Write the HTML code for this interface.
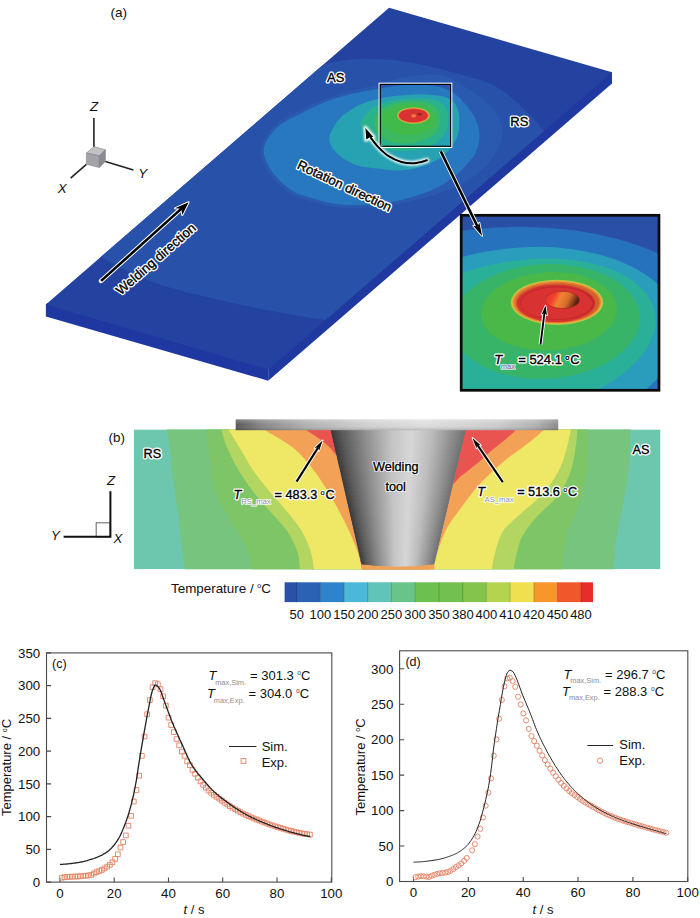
<!DOCTYPE html>
<html><head><meta charset="utf-8"><title>Figure</title>
<style>
html,body{margin:0;padding:0;background:#fff;}
body{width:700px;height:918px;overflow:hidden;font-family:"Liberation Sans",sans-serif;}
svg{display:block;font-family:"Liberation Sans",sans-serif;}
</style></head><body>
<svg width="700" height="918" viewBox="0 0 700 918">
<rect width="700" height="918" fill="#fff"/>
<!-- panel a -->
<defs><filter id="blur04"><feGaussianBlur stdDeviation="0.45"/></filter><filter id="glow" x="-20%" y="-20%" width="140%" height="140%"><feGaussianBlur stdDeviation="0.85"/></filter></defs>
<polygon points="45.9,304.4 47.4,303.09999999999997 268.2,368.0 268.2,380.7 45.9,316.4" fill="#1f37a1"/>
<polygon points="268.2,368.0 610.1,71.74 612,72.3 612,83.5 268.2,380.7" fill="#2039a0"/>
<clipPath id="plate"><polygon points="45.9,304.4 389.1,7.7 612,72.3 268.2,369.5"/></clipPath>
<polygon points="45.9,304.4 389.1,7.7 612,72.3 268.2,369.5" fill="#2443a0"/>
<g clip-path="url(#plate)">
<path d="M300,82C303.3,79.3 310.2,69.8 320.0,66.0C329.8,62.2 344.6,59.8 358.6,59.0C372.6,58.2 388.8,59.3 404.0,61.4C419.2,63.5 435.0,67.7 450.0,71.7C465.0,75.7 481.4,78.9 494.0,85.4C506.6,91.9 517.2,102.7 525.7,110.6C534.2,118.5 540.0,126.4 545.0,133.0C550.0,139.6 554.2,147.2 556.0,150.0L620,160 L400,400 L350,326C347.1,325.2 342.4,323.3 332.6,321.4C322.8,319.5 309.7,318.0 291.4,314.6C273.1,311.2 245.8,306.2 222.9,300.9C200.1,295.6 174.5,289.9 154.3,282.6C134.1,275.4 113.2,263.5 101.7,257.4C90.2,251.3 87.8,247.9 85.0,246.0L20,240Z" fill="#2851a9"/>
<path d="M261.0,148.5C262.3,140.5 269.2,130.5 276.0,124.0C282.8,117.5 294.0,113.6 302.0,109.5C310.0,105.4 316.0,102.6 324.0,99.5C332.0,96.4 341.3,93.4 350.0,91.0C358.7,88.6 366.8,87.3 376.0,85.0C385.2,82.7 394.3,78.7 405.0,77.0C415.7,75.3 429.2,72.8 440.0,75.0C450.8,77.2 461.7,84.8 470.0,90.0C478.3,95.2 485.0,101.0 490.0,106.0C495.0,111.0 498.0,115.0 500.0,120.0C502.0,125.0 502.7,130.7 502.0,136.0C501.3,141.3 498.7,147.0 496.0,152.0C493.3,157.0 491.0,161.0 486.0,166.0C481.0,171.0 473.7,177.5 466.0,182.0C458.3,186.5 449.7,189.7 440.0,193.0C430.3,196.3 418.3,199.7 408.0,202.0C397.7,204.3 387.7,206.0 378.0,207.0C368.3,208.0 358.2,208.2 350.0,208.0C341.8,207.8 335.7,207.2 329.0,206.0C322.3,204.8 316.7,203.2 310.0,201.0C303.3,198.8 296.0,197.8 289.0,193.0C282.0,188.2 272.7,179.4 268.0,172.0C263.3,164.6 259.7,156.5 261.0,148.5Z" fill="#295ab0"/>
<path d="M264.0,148.0C265.3,140.7 271.9,132.0 278.6,126.0C285.3,120.0 296.5,116.0 304.3,111.9C312.1,107.9 317.9,104.7 325.7,101.7C333.5,98.7 342.8,96.1 351.4,94.0C360.0,91.9 367.3,90.5 377.1,88.9C386.9,87.3 399.9,84.9 410.0,84.5C420.1,84.1 430.5,84.9 438.0,86.5C445.5,88.1 450.3,90.9 455.0,94.0C459.7,97.1 462.5,100.7 466.0,105.0C469.5,109.3 473.8,114.8 476.0,120.0C478.2,125.2 479.5,130.7 479.5,136.0C479.5,141.3 477.9,147.5 476.0,152.0C474.1,156.5 471.5,159.0 468.0,163.0C464.5,167.0 460.7,171.7 455.0,176.0C449.3,180.3 442.3,185.2 434.0,189.0C425.7,192.8 414.3,196.5 405.0,199.0C395.7,201.5 387.2,203.0 378.0,204.0C368.8,205.0 358.0,205.2 350.0,205.0C342.0,204.8 336.3,204.2 330.0,203.0C323.7,201.8 318.4,200.1 312.0,198.0C305.6,195.9 298.2,195.0 291.4,190.3C284.6,185.6 275.6,177.1 271.0,170.0C266.4,162.9 262.7,155.3 264.0,148.0Z" fill="#2878c0"/>
<g filter="url(#blur04)">
<path d="M329.6,136.4C330.5,131.5 335.0,124.2 338.6,119.7C342.2,115.2 347.1,112.2 351.4,109.4C355.7,106.6 360.0,104.7 364.3,103.0C368.6,101.3 372.0,100.3 377.1,99.1C382.2,97.9 387.9,96.8 395.0,96.0C402.1,95.2 412.5,94.5 420.0,94.5C427.5,94.5 434.7,95.0 440.0,96.0C445.3,97.0 449.0,98.2 452.0,100.5C455.0,102.8 456.8,106.6 458.0,110.0C459.2,113.4 459.3,117.0 459.3,121.0C459.3,125.0 459.2,129.8 458.0,134.0C456.8,138.2 455.0,142.0 452.0,146.0C449.0,150.0 445.3,154.5 440.0,158.0C434.7,161.5 426.7,164.9 420.0,167.0C413.3,169.1 407.1,170.2 400.0,170.5C392.9,170.8 384.1,169.4 377.1,168.6C370.1,167.8 363.2,166.9 357.9,165.4C352.5,163.9 349.1,162.3 345.0,159.6C340.9,156.9 336.0,153.2 333.4,149.3C330.8,145.4 328.7,141.3 329.6,136.4Z" fill="#28a2b2"/>
<path d="M361.0,124.5C360.8,120.2 364.2,116.5 366.9,113.3C369.6,110.1 372.4,107.7 377.1,105.6C381.8,103.5 387.9,101.7 395.0,100.5C402.1,99.3 412.8,98.4 420.0,98.5C427.2,98.6 433.7,99.4 438.0,101.0C442.3,102.6 444.2,104.8 446.0,108.0C447.8,111.2 448.7,115.8 448.5,120.0C448.3,124.2 447.1,129.2 445.0,133.0C442.9,136.8 440.2,140.3 436.0,143.0C431.8,145.7 426.0,147.7 420.0,149.0C414.0,150.3 406.5,151.2 400.0,151.0C393.5,150.8 386.3,150.0 381.0,148.0C375.7,146.0 371.3,142.9 368.0,139.0C364.7,135.1 361.2,128.8 361.0,124.5Z" fill="#2cb28a"/>
<path d="M374.0,122.0C374.3,118.2 376.5,113.6 380.0,110.5C383.5,107.4 389.2,105.0 395.0,103.5C400.8,102.0 409.0,101.4 415.0,101.5C421.0,101.6 427.1,102.2 431.0,104.0C434.9,105.8 437.0,109.0 438.5,112.0C440.0,115.0 440.6,118.5 440.0,122.0C439.4,125.5 438.0,129.9 435.0,133.0C432.0,136.1 427.0,138.8 422.0,140.5C417.0,142.2 410.5,143.3 405.0,143.5C399.5,143.7 393.5,143.2 389.0,141.5C384.5,139.8 380.5,136.2 378.0,133.0C375.5,129.8 373.7,125.8 374.0,122.0Z" fill="#3ab860"/>
<ellipse cx="409" cy="119.5" rx="27" ry="15.5" fill="#42ba4c" />
<ellipse cx="413.4" cy="115.6" rx="16.2" ry="8.2" fill="#c8c848" />
<ellipse cx="413.4" cy="115.6" rx="15.4" ry="7.5" fill="#e87838" />
<ellipse cx="413.4" cy="115.6" rx="14.4" ry="6.7" fill="#d93030" />
<ellipse cx="413.7" cy="115.8" rx="2.6" ry="1.9" fill="#f4703c" />
<ellipse cx="419.7" cy="114.19999999999999" rx="2.0" ry="1.2" fill="#8a2a20" />
</g>
</g>
<rect x="379.15000000000003" y="83.25" width="72.60000000000001" height="64.2" fill="none" stroke="#fff" stroke-width="1.15"/>
<rect x="380.3" y="84.4" width="70.30000000000001" height="61.900000000000006" fill="none" stroke="#000" stroke-width="1.15"/>
<text x="335.7" y="82" font-size="13" text-anchor="middle" fill="#000" stroke="#fff" stroke-width="3.0" stroke-linejoin="round"  style="">AS</text><text x="335.7" y="82" font-size="13" text-anchor="middle" fill="#000" stroke="#000" stroke-width="0.35"  style="">AS</text>
<text x="519.3" y="126" font-size="13" text-anchor="middle" fill="#000" stroke="#fff" stroke-width="3.0" stroke-linejoin="round"  style="">RS</text><text x="519.3" y="126" font-size="13" text-anchor="middle" fill="#000" stroke="#000" stroke-width="0.35"  style="">RS</text>
<text x="120.8" y="295.6" font-size="13.2" text-anchor="start" fill="#000" stroke="#fff" stroke-width="3.0" stroke-linejoin="round"  transform="rotate(-41.2 120.8 295.6)" style="">Welding direction</text><text x="120.8" y="295.6" font-size="13.2" text-anchor="start" fill="#000" stroke="#000" stroke-width="0.35"  transform="rotate(-41.2 120.8 295.6)" style="">Welding direction</text>
<text x="296.2" y="168.1" font-size="13.2" text-anchor="start" fill="#000" stroke="#fff" stroke-width="3.0" stroke-linejoin="round"  transform="rotate(25.3 296.2 168.1)" style="">Rotation direction</text><text x="296.2" y="168.1" font-size="13.2" text-anchor="start" fill="#000" stroke="#000" stroke-width="0.35"  transform="rotate(25.3 296.2 168.1)" style="">Rotation direction</text>
<path d="M101.1,280.9 L184,206.3" stroke="#fff" stroke-width="4.6" stroke-linecap="round" fill="none"/>
<path d="M188.6,202.2 L175.0,208.3 L181.2,208.8 L182.3,215.0 Z" fill="#000" stroke="#fff" stroke-width="2" stroke-linejoin="round" paint-order="stroke"/>
<path d="M101.1,280.9 L182,208.1" stroke="#000" stroke-width="2.6" stroke-linecap="butt" fill="none"/>
<g filter="url(#glow)"><path d="M426.9,160.3C424.8,160.8 418.6,162.9 414.3,163.2C410.1,163.5 405.7,163.1 401.4,161.9C397.1,160.7 392.5,158.6 388.6,156.1C384.8,153.6 381.2,150.1 378.3,147.1C375.4,144.1 372.1,139.4 370.9,137.8" stroke="#fff" stroke-width="4.8" stroke-linecap="round" fill="none"/>
<path d="M365.2,127.4 L365.9,140.2 L370.2,137.6 L373.9,137.0 Z" fill="#fff" stroke="#fff" stroke-width="3.2" stroke-linejoin="round"/></g>
<path d="M365.4,127.9 L366.3,139.6 L370.0,137.3 L373.3,136.9 Z" fill="#000"/>
<path d="M426.9,160.3C424.8,160.8 418.6,162.9 414.3,163.2C410.1,163.5 405.7,163.1 401.4,161.9C397.1,160.7 392.5,158.6 388.6,156.1C384.8,153.6 381.2,150.1 378.3,147.1C375.4,144.1 372.1,139.4 370.9,137.8" stroke="#000" stroke-width="2.05" stroke-linecap="round" fill="none"/>
<g stroke="#222" stroke-width="1.6" fill="none"><path d="M93.9,117.9V147"/><path d="M105.4,161.5L133.4,169.9"/><path d="M86.4,164.3L70.6,178.2"/></g>
<polygon points="86.4,153.1 93.9,146.6 105.4,149.8 99.4,155.9" fill="#c2c2c6" stroke="#77777c" stroke-width="0.5"/>
<polygon points="86.4,153.1 99.4,155.9 99.4,167.6 86.4,164.3" fill="#a4a4a8" stroke="#77777c" stroke-width="0.5"/>
<polygon points="99.4,155.9 105.4,149.8 105.4,161.5 99.4,167.6" fill="#8a8a90" stroke="#77777c" stroke-width="0.5"/>
<g font-style="italic" font-size="13.4" fill="#111" text-anchor="middle"><text x="94.2" y="111.4">Z</text><text x="142.6" y="178.4">Y</text><text x="62.3" y="193.2">X</text></g>
<text x="110.4" y="17.4" font-size="13.6" fill="#111">(a)</text>
<!-- inset -->
<clipPath id="inset"><rect x="461.2" y="215.3" width="197.8" height="175.0"/></clipPath>
<defs><linearGradient id="pin" x1="0" y1="0" x2="1" y2="0.25"><stop offset="0" stop-color="#ee2c2c"/><stop offset="0.3" stop-color="#f04030"/><stop offset="0.5" stop-color="#f08432"/><stop offset="0.75" stop-color="#d86a2a"/><stop offset="0.95" stop-color="#7a3418"/><stop offset="1" stop-color="#5a2410"/></linearGradient></defs>
<g clip-path="url(#inset)">
<rect x="461.2" y="215.3" width="197.8" height="175.0" fill="#2a50a6"/>
<g filter="url(#blur04)">
<ellipse cx="494" cy="361" rx="241.7" ry="133" fill="#2872bc" transform="rotate(-5 494 361)" />
<ellipse cx="517.7" cy="341.3" rx="162.7" ry="93.4" fill="#2a9cbc" transform="rotate(-6.1 517.7 341.3)" />
<ellipse cx="518" cy="336.5" rx="139" ry="75.6" fill="#2cb098" transform="rotate(-9.5 518 336.5)" />
<ellipse cx="545.7" cy="321.4" rx="94.1" ry="57.2" fill="#38b468" transform="rotate(-3 545.7 321.4)" />
<ellipse cx="549.1" cy="311.2" rx="68.1" ry="39" fill="#48b848" transform="rotate(-3 549.1 311.2)" />
</g>
<ellipse cx="557" cy="302.3" rx="46.2" ry="22.6" fill="#b4cc48" />
<ellipse cx="557" cy="302.3" rx="45.2" ry="21.8" fill="#e8a83c" />
<ellipse cx="557" cy="302.3" rx="43.8" ry="20.8" fill="#e87c34" />
<ellipse cx="557.4" cy="302.6" rx="42" ry="19.7" fill="#d0602c" />
<ellipse cx="556" cy="303.4" rx="39.2" ry="18.7" fill="#d63030" />
<ellipse cx="557.2" cy="303" rx="36.8" ry="16.8" fill="#c0282a" />
<ellipse cx="556.6" cy="303.3" rx="35.6" ry="15.9" fill="#d83232" />
<ellipse cx="562.6" cy="300" rx="17.3" ry="8.7" fill="#a02820" />
<ellipse cx="562.4" cy="300" rx="16.8" ry="8.3" fill="url(#pin)" />
</g>
<rect x="461.2" y="215.3" width="197.8" height="175.0" fill="none" stroke="#0a0a0a" stroke-width="2.7"/>
<path d="M540.5,344.5 L544.6,311" stroke="#fff" stroke-width="3.8" stroke-linecap="butt" fill="none"/>
<path d="M545.5,305.6 L541.6,314.5 L544.5,313 L547.0,315.2 Z" fill="#000" stroke="#fff" stroke-width="1.6" stroke-linejoin="round" paint-order="stroke"/>
<path d="M540.5,344.5 L544.6,311.5" stroke="#000" stroke-width="1.9" fill="none"/>
<text x="494.3" y="363.6" font-size="13" text-anchor="start" fill="#000" stroke="#fff" stroke-width="3.0" stroke-linejoin="round"  style="font-style:italic">T</text><text x="494.3" y="363.6" font-size="13" text-anchor="start" fill="#000" stroke="#000" stroke-width="0.35"  style="font-style:italic">T</text>
<text x="500.8" y="368.6" font-size="7.6" text-anchor="start" fill="#8a92a8" stroke="#fff" stroke-width="1.6" stroke-linejoin="round"  style="">max</text><text x="500.8" y="368.6" font-size="7.6" text-anchor="start" fill="#8a92a8" stroke="#8a92a8" stroke-width="0.35"  style="">max</text>
<text x="518.2" y="363.6" font-size="13" text-anchor="start" fill="#000" stroke="#fff" stroke-width="3.0" stroke-linejoin="round"  style="">= 524.1</text><text x="518.2" y="363.6" font-size="13" text-anchor="start" fill="#000" stroke="#000" stroke-width="0.35"  style="">= 524.1</text>
<text x="565.3" y="359.8" font-size="7.5" text-anchor="start" fill="#000" stroke="#fff" stroke-width="1.8" stroke-linejoin="round"  style="">o</text><text x="565.3" y="359.8" font-size="7.5" text-anchor="start" fill="#000" stroke="#000" stroke-width="0.35"  style="">o</text>
<text x="570.2" y="363.6" font-size="13" text-anchor="start" fill="#000" stroke="#fff" stroke-width="3.0" stroke-linejoin="round"  style="">C</text><text x="570.2" y="363.6" font-size="13" text-anchor="start" fill="#000" stroke="#000" stroke-width="0.35"  style="">C</text>
<path d="M440.8,151.4L477.5,226.5" stroke="#fff" stroke-width="4.3" fill="none"/>
<path d="M482.1,235.9L473.3,225.7L477.5,226.5L479.4,222.7Z" fill="#000" stroke="#fff" stroke-width="1.7" stroke-linejoin="round" paint-order="stroke"/>
<path d="M440.8,151.4L477.5,226.5" stroke="#000" stroke-width="2.6" fill="none"/>
<!-- panel b -->
<clipPath id="pb"><rect x="134.0" y="429.4" width="526.5" height="139.89999999999998"/></clipPath>
<defs>
<linearGradient id="tool" x1="0" y1="0" x2="1" y2="0"><stop offset="0" stop-color="#3a3a3a"/><stop offset="0.08" stop-color="#5a5a5a"/><stop offset="0.25" stop-color="#8e8e8e"/><stop offset="0.45" stop-color="#c4c4c4"/><stop offset="0.6" stop-color="#d6d6d6"/><stop offset="0.75" stop-color="#bcbcbc"/><stop offset="0.9" stop-color="#909090"/><stop offset="1" stop-color="#707070"/></linearGradient>
<linearGradient id="shoulder" x1="0" y1="0" x2="1" y2="0"><stop offset="0" stop-color="#585858"/><stop offset="0.08" stop-color="#868686"/><stop offset="0.22" stop-color="#b2b2b2"/><stop offset="0.42" stop-color="#d2d2d2"/><stop offset="0.58" stop-color="#dedede"/><stop offset="0.8" stop-color="#cecece"/><stop offset="0.93" stop-color="#b2b2b2"/><stop offset="1" stop-color="#8a8a8a"/></linearGradient>
<linearGradient id="shv" x1="0" y1="0" x2="0" y2="1"><stop offset="0" stop-color="#fff" stop-opacity="0.25"/><stop offset="0.5" stop-color="#fff" stop-opacity="0"/><stop offset="1" stop-color="#000" stop-opacity="0.18"/></linearGradient>
</defs>
<g clip-path="url(#pb)">
<rect x="134.0" y="429.4" width="526.5" height="139.89999999999998" fill="#6dc6ae"/>
<path d="M166.1,421.4C166.2,422.7 166.3,424.6 167.0,429.4C167.7,434.2 169.0,441.6 170.0,450.0C171.0,458.4 171.9,471.6 173.0,480.0C174.1,488.4 175.1,491.5 176.3,500.7C177.6,509.9 179.1,523.6 180.5,535.0C181.9,546.4 183.9,562.0 184.9,569.0C185.9,576.0 186.0,575.7 186.2,577.0L398,577.0L398,421.4Z" fill="#76c47e"/>
<path d="M205.9,421.4C206.1,422.7 206.2,423.2 206.8,429.4C207.4,435.6 208.0,447.7 209.7,458.6C211.4,469.5 212.9,483.7 217.0,495.0C221.1,506.3 229.2,518.1 234.0,526.6C238.8,535.1 243.1,538.9 246.1,546.0C249.1,553.1 250.9,563.8 252.2,569.0C253.5,574.2 253.7,575.7 254.0,577.0L398,577.0L398,421.4Z" fill="#7ec568"/>
<path d="M219.8,421.4C220.1,422.7 220.3,425.2 221.4,429.4C222.5,433.6 223.8,439.5 226.7,446.4C229.6,453.3 234.0,462.6 238.9,470.7C243.8,478.8 250.2,487.7 255.9,495.0C261.6,502.3 267.6,508.3 272.8,514.4C278.1,520.5 283.3,525.3 287.4,531.4C291.4,537.5 295.0,544.5 297.1,550.8C299.2,557.1 299.4,564.6 300.0,569.0C300.6,573.4 300.7,575.7 300.9,577.0L398,577.0L398,421.4Z" fill="#b3d562"/>
<path d="M225.6,421.4C226.1,422.7 226.5,425.2 228.7,429.4C230.9,433.6 234.8,439.5 238.9,446.4C243.0,453.3 248.2,463.0 253.4,470.7C258.6,478.4 264.7,485.7 270.4,492.6C276.1,499.5 282.1,505.5 287.4,512.0C292.7,518.5 298.1,524.9 302.0,531.4C305.9,537.9 308.5,544.5 310.5,550.8C312.5,557.1 313.3,564.6 314.1,569.0C314.9,573.4 315.0,575.7 315.2,577.0L398,577.0L398,421.4Z" fill="#efe766"/>
<path d="M259.7,421.4C260.5,422.7 261.0,426.4 264.4,429.4C267.8,432.3 274.7,435.5 280.1,439.1C285.6,442.8 291.4,446.0 297.1,451.3C302.8,456.6 308.8,463.8 314.1,470.7C319.4,477.6 324.4,485.7 328.7,492.6C332.9,499.5 336.4,505.9 339.6,512.0C342.8,518.1 345.5,523.3 348.1,529.0C350.7,534.7 353.4,540.7 355.4,546.0C357.4,551.3 359.0,556.8 360.3,560.6C361.6,564.4 362.4,566.3 363.0,569.0C363.6,571.7 363.7,575.7 363.8,577.0L398,577.0L398,421.4Z" fill="#f4a158"/>
<path d="M302.3,421.4C302.9,422.7 303.2,426.8 305.6,429.4C308.0,431.9 312.8,433.9 316.6,436.7C320.5,439.5 325.7,443.6 328.7,446.4C331.7,449.2 332.1,449.8 334.8,453.7C337.5,457.6 340.5,450.8 345.0,470.0C349.5,489.2 358.3,551.2 362.0,569.0C365.7,586.8 366.2,575.7 367.1,577.0L398,577.0L398,421.4Z" fill="#ea5450"/>
<path d="M631.1,421.4C631.0,422.7 631.0,421.9 630.6,429.4C630.2,436.9 630.0,454.5 628.9,466.4C627.8,478.3 625.7,489.3 623.7,500.7C621.7,512.1 618.6,523.6 616.9,535.0C615.2,546.4 614.2,562.0 613.4,569.0C612.6,576.0 612.5,575.7 612.4,577.0L398,577.0L398,421.4Z" fill="#76c47e"/>
<path d="M588.2,421.4C588.1,422.7 588.1,421.2 587.8,429.4C587.5,437.6 588.2,457.8 586.6,470.7C585.0,483.6 581.5,496.2 578.1,507.1C574.7,518.0 568.6,526.0 566.0,536.3C563.4,546.6 563.1,562.2 562.3,569.0C561.5,575.8 561.4,575.7 561.2,577.0L398,577.0L398,421.4Z" fill="#7ec568"/>
<path d="M577.9,421.4C577.8,422.7 577.8,425.2 577.4,429.4C577.0,433.6 576.8,439.5 575.7,446.4C574.6,453.3 573.6,462.6 570.8,470.7C568.0,478.8 564.4,487.3 558.7,495.0C553.0,502.7 542.9,509.9 536.8,516.8C530.7,523.7 525.7,529.8 522.3,536.3C518.9,542.8 517.6,550.2 516.2,555.7C514.8,561.2 514.3,565.5 513.8,569.0C513.3,572.5 513.2,575.7 513.1,577.0L398,577.0L398,421.4Z" fill="#b3d562"/>
<path d="M571.9,421.4C571.7,422.7 571.6,425.2 570.8,429.4C570.0,433.6 569.2,439.5 567.2,446.4C565.2,453.3 563.0,462.6 558.7,470.7C554.5,478.8 548.2,487.7 541.7,495.0C535.2,502.3 526.3,508.3 519.8,514.4C513.3,520.5 506.8,525.3 502.8,531.4C498.8,537.5 497.4,544.5 495.6,550.8C493.8,557.1 492.7,564.6 491.9,569.0C491.1,573.4 491.0,575.7 490.8,577.0L398,577.0L398,421.4Z" fill="#efe766"/>
<path d="M549.2,421.4C548.4,422.7 547.8,425.6 544.1,429.4C540.4,433.2 534.0,438.5 527.1,444.0C520.2,449.5 510.9,455.3 502.8,462.2C494.7,469.1 485.5,477.8 478.6,485.3C471.7,492.8 466.5,500.6 461.6,507.1C456.7,513.6 452.6,518.8 449.4,524.1C446.1,529.4 444.2,533.6 442.1,538.7C440.0,543.9 438.1,550.0 436.5,555.0C434.9,560.0 433.4,565.3 432.5,569.0C431.6,572.7 431.5,575.7 431.3,577.0L398,577.0L398,421.4Z" fill="#f4a158"/>
<path d="M520.2,421.4C519.6,422.7 519.1,426.0 516.2,429.4C513.3,432.8 507.1,438.0 502.8,441.6C498.6,445.2 494.7,447.9 490.7,451.3C486.7,454.7 482.7,458.8 478.6,462.2C474.6,465.6 470.0,468.9 466.4,471.9C462.8,474.9 460.3,475.7 456.7,480.4C453.1,485.1 449.4,485.2 445.0,500.0C440.6,514.8 433.2,556.2 430.0,569.0C426.8,581.8 426.2,575.7 425.5,577.0L398,577.0L398,421.4Z" fill="#ea5450"/>
<rect x="361.4" y="562" width="73" height="9" fill="#f4a158"/>
</g>
<clipPath id="toolclip"><path d="M330.6,429.6 L465.8,429.6 L434.4,564.2 Q398,568.6 361.4,564.2 Z"/></clipPath>
<g clip-path="url(#toolclip)">
<rect x="330" y="429" width="137" height="141" fill="url(#tool)"/>
<rect x="331.21" y="429.60" width="133.98" height="5.29" fill="url(#tool)"/>
<rect x="332.14" y="433.69" width="132.09" height="5.29" fill="url(#tool)"/>
<rect x="333.08" y="437.78" width="130.20" height="5.29" fill="url(#tool)"/>
<rect x="334.01" y="441.86" width="128.31" height="5.29" fill="url(#tool)"/>
<rect x="334.95" y="445.95" width="126.42" height="5.29" fill="url(#tool)"/>
<rect x="335.88" y="450.04" width="124.53" height="5.29" fill="url(#tool)"/>
<rect x="336.82" y="454.13" width="122.64" height="5.29" fill="url(#tool)"/>
<rect x="337.75" y="458.22" width="120.75" height="5.29" fill="url(#tool)"/>
<rect x="338.69" y="462.31" width="118.86" height="5.29" fill="url(#tool)"/>
<rect x="339.62" y="466.39" width="116.98" height="5.29" fill="url(#tool)"/>
<rect x="340.56" y="470.48" width="115.09" height="5.29" fill="url(#tool)"/>
<rect x="341.50" y="474.57" width="113.20" height="5.29" fill="url(#tool)"/>
<rect x="342.43" y="478.66" width="111.31" height="5.29" fill="url(#tool)"/>
<rect x="343.37" y="482.75" width="109.42" height="5.29" fill="url(#tool)"/>
<rect x="344.30" y="486.84" width="107.53" height="5.29" fill="url(#tool)"/>
<rect x="345.24" y="490.92" width="105.64" height="5.29" fill="url(#tool)"/>
<rect x="346.17" y="495.01" width="103.75" height="5.29" fill="url(#tool)"/>
<rect x="347.11" y="499.10" width="101.86" height="5.29" fill="url(#tool)"/>
<rect x="348.04" y="503.19" width="99.97" height="5.29" fill="url(#tool)"/>
<rect x="348.98" y="507.28" width="98.08" height="5.29" fill="url(#tool)"/>
<rect x="349.91" y="511.36" width="96.19" height="5.29" fill="url(#tool)"/>
<rect x="350.85" y="515.45" width="94.30" height="5.29" fill="url(#tool)"/>
<rect x="351.79" y="519.54" width="92.42" height="5.29" fill="url(#tool)"/>
<rect x="352.72" y="523.63" width="90.53" height="5.29" fill="url(#tool)"/>
<rect x="353.66" y="527.72" width="88.64" height="5.29" fill="url(#tool)"/>
<rect x="354.59" y="531.81" width="86.75" height="5.29" fill="url(#tool)"/>
<rect x="355.53" y="535.89" width="84.86" height="5.29" fill="url(#tool)"/>
<rect x="356.46" y="539.98" width="82.97" height="5.29" fill="url(#tool)"/>
<rect x="357.40" y="544.07" width="81.08" height="5.29" fill="url(#tool)"/>
<rect x="358.33" y="548.16" width="79.19" height="5.29" fill="url(#tool)"/>
<rect x="359.27" y="552.25" width="77.30" height="5.29" fill="url(#tool)"/>
<rect x="360.21" y="556.34" width="75.41" height="5.29" fill="url(#tool)"/>
<rect x="361.14" y="560.42" width="73.52" height="5.29" fill="url(#tool)"/>
<rect x="362.08" y="564.51" width="71.63" height="5.29" fill="url(#tool)"/>
</g>
<rect x="235.7" y="419.4" width="322.5" height="10.8" fill="url(#shoulder)"/>
<rect x="235.7" y="419.4" width="322.5" height="10.8" fill="url(#shv)"/>
<text x="395.7" y="470.9" font-size="12.7" text-anchor="middle" fill="#000" stroke="#fff" stroke-width="2.2" stroke-linejoin="round"  style="">Welding</text><text x="395.7" y="470.9" font-size="12.7" text-anchor="middle" fill="#000" stroke="#000" stroke-width="0.35"  style="">Welding</text>
<text x="395.7" y="490.9" font-size="12.7" text-anchor="middle" fill="#000" stroke="#fff" stroke-width="2.2" stroke-linejoin="round"  style="">tool</text><text x="395.7" y="490.9" font-size="12.7" text-anchor="middle" fill="#000" stroke="#000" stroke-width="0.35"  style="">tool</text>
<text x="152.3" y="458.3" font-size="12.7" text-anchor="middle" fill="#000" stroke="#fff" stroke-width="3.0" stroke-linejoin="round"  style="">RS</text><text x="152.3" y="458.3" font-size="12.7" text-anchor="middle" fill="#000" stroke="#000" stroke-width="0.35"  style="">RS</text>
<text x="640.9" y="454" font-size="12.7" text-anchor="middle" fill="#000" stroke="#fff" stroke-width="3.0" stroke-linejoin="round"  style="">AS</text><text x="640.9" y="454" font-size="12.7" text-anchor="middle" fill="#000" stroke="#000" stroke-width="0.35"  style="">AS</text>
<path d="M296.6,481.6L318.4,447.1" stroke="#fff" stroke-width="4.0" fill="none"/><path d="M322.6,440.4L319.0,451.1L318.4,447.1L314.4,448.3Z" fill="#000" stroke="#fff" stroke-width="1.6" stroke-linejoin="round" paint-order="stroke"/><path d="M296.6,481.6L318.4,447.1" stroke="#000" stroke-width="2.1" fill="none"/>
<path d="M502.8,482.1L477.0,444.4" stroke="#fff" stroke-width="4.0" fill="none"/><path d="M472.5,437.9L480.9,445.4L477.0,444.4L476.5,448.5Z" fill="#000" stroke="#fff" stroke-width="1.6" stroke-linejoin="round" paint-order="stroke"/><path d="M502.8,482.1L477.0,444.4" stroke="#000" stroke-width="2.1" fill="none"/>
<text x="233.6" y="498.6" font-size="12.7" text-anchor="start" fill="#000" stroke="#fff" stroke-width="3.0" stroke-linejoin="round"  style="font-style:italic">T</text><text x="233.6" y="498.6" font-size="12.7" text-anchor="start" fill="#000" stroke="#000" stroke-width="0.35"  style="font-style:italic">T</text>
<text x="241.2" y="503.5" font-size="7.7" text-anchor="start" fill="#8a92a8" stroke="#fff" stroke-width="1.6" stroke-linejoin="round"  style="">RS_max</text><text x="241.2" y="503.5" font-size="7.7" text-anchor="start" fill="#8a92a8" stroke="#8a92a8" stroke-width="0"  style="">RS_max</text>
<text x="274.6" y="498.6" font-size="12.7" text-anchor="start" fill="#000" stroke="#fff" stroke-width="3.0" stroke-linejoin="round"  style="">= 483.3</text><text x="274.6" y="498.6" font-size="12.7" text-anchor="start" fill="#000" stroke="#000" stroke-width="0.35"  style="">= 483.3</text>
<text x="320.6" y="494.8" font-size="7.5" text-anchor="start" fill="#000" stroke="#fff" stroke-width="1.8" stroke-linejoin="round"  style="">o</text><text x="320.6" y="494.8" font-size="7.5" text-anchor="start" fill="#000" stroke="#000" stroke-width="0.2"  style="">o</text>
<text x="325.4" y="498.6" font-size="12.7" text-anchor="start" fill="#000" stroke="#fff" stroke-width="3.0" stroke-linejoin="round"  style="">C</text><text x="325.4" y="498.6" font-size="12.7" text-anchor="start" fill="#000" stroke="#000" stroke-width="0.35"  style="">C</text>
<text x="477.2" y="496.2" font-size="12.7" text-anchor="start" fill="#000" stroke="#fff" stroke-width="3.0" stroke-linejoin="round"  style="font-style:italic">T</text><text x="477.2" y="496.2" font-size="12.7" text-anchor="start" fill="#000" stroke="#000" stroke-width="0.35"  style="font-style:italic">T</text>
<text x="484.6" y="501.8" font-size="7.7" text-anchor="start" fill="#8a92a8" stroke="#fff" stroke-width="1.6" stroke-linejoin="round"  style="">AS_max</text><text x="484.6" y="501.8" font-size="7.7" text-anchor="start" fill="#8a92a8" stroke="#8a92a8" stroke-width="0"  style="">AS_max</text>
<text x="517.2" y="496.2" font-size="12.7" text-anchor="start" fill="#000" stroke="#fff" stroke-width="3.0" stroke-linejoin="round"  style="">= 513.6</text><text x="517.2" y="496.2" font-size="12.7" text-anchor="start" fill="#000" stroke="#000" stroke-width="0.35"  style="">= 513.6</text>
<text x="563.2" y="492.4" font-size="7.5" text-anchor="start" fill="#000" stroke="#fff" stroke-width="1.8" stroke-linejoin="round"  style="">o</text><text x="563.2" y="492.4" font-size="7.5" text-anchor="start" fill="#000" stroke="#000" stroke-width="0.2"  style="">o</text>
<text x="568.0" y="496.2" font-size="12.7" text-anchor="start" fill="#000" stroke="#fff" stroke-width="3.0" stroke-linejoin="round"  style="">C</text><text x="568.0" y="496.2" font-size="12.7" text-anchor="start" fill="#000" stroke="#000" stroke-width="0.35"  style="">C</text>
<rect x="96.2" y="522.8" width="14" height="14" fill="none" stroke="#707070" stroke-width="1.1"/>
<path d="M110.4,492.2V536.8H64.6" stroke="#111" stroke-width="2" fill="none" stroke-linecap="square"/>
<g font-style="italic" font-size="13.2" fill="#111" text-anchor="middle"><text x="111" y="484.8">Z</text><text x="55.5" y="540.4">Y</text><text x="118" y="543.4">X</text></g>
<text x="108.6" y="441.6" font-size="13.4" fill="#111">(b)</text>
<rect x="284.6" y="582.3" width="12.4" height="19.8" fill="#2a50a8"/>
<rect x="296.7" y="582.3" width="24.0" height="19.8" fill="#2c62b4"/>
<rect x="320.4" y="582.3" width="24.0" height="19.8" fill="#2e84cc"/>
<rect x="344.1" y="582.3" width="23.9" height="19.8" fill="#4ab8d8"/>
<rect x="367.7" y="582.3" width="24.0" height="19.8" fill="#60c4b8"/>
<rect x="391.4" y="582.3" width="24.1" height="19.8" fill="#68c488"/>
<rect x="415.2" y="582.3" width="24.1" height="19.8" fill="#6cc050"/>
<rect x="439" y="582.3" width="24.1" height="19.8" fill="#72c050"/>
<rect x="462.8" y="582.3" width="23.8" height="19.8" fill="#84c44c"/>
<rect x="486.3" y="582.3" width="24.1" height="19.8" fill="#b4d450"/>
<rect x="510.1" y="582.3" width="24.1" height="19.8" fill="#f0e050"/>
<rect x="533.9" y="582.3" width="23.9" height="19.8" fill="#f8962c"/>
<rect x="557.5" y="582.3" width="23.8" height="19.8" fill="#f0582c"/>
<rect x="581" y="582.3" width="12.0" height="19.8" fill="#e82c2c"/>
<path d="M296.7,582.3V602.1" stroke="#000" stroke-opacity="0.28" stroke-width="0.7"/>
<path d="M320.4,582.3V602.1" stroke="#000" stroke-opacity="0.28" stroke-width="0.7"/>
<path d="M344.1,582.3V602.1" stroke="#000" stroke-opacity="0.28" stroke-width="0.7"/>
<path d="M367.7,582.3V602.1" stroke="#000" stroke-opacity="0.28" stroke-width="0.7"/>
<path d="M391.4,582.3V602.1" stroke="#000" stroke-opacity="0.28" stroke-width="0.7"/>
<path d="M415.2,582.3V602.1" stroke="#000" stroke-opacity="0.28" stroke-width="0.7"/>
<path d="M439,582.3V602.1" stroke="#000" stroke-opacity="0.28" stroke-width="0.7"/>
<path d="M462.8,582.3V602.1" stroke="#000" stroke-opacity="0.28" stroke-width="0.7"/>
<path d="M486.3,582.3V602.1" stroke="#000" stroke-opacity="0.28" stroke-width="0.7"/>
<path d="M510.1,582.3V602.1" stroke="#000" stroke-opacity="0.28" stroke-width="0.7"/>
<path d="M533.9,582.3V602.1" stroke="#000" stroke-opacity="0.28" stroke-width="0.7"/>
<path d="M557.5,582.3V602.1" stroke="#000" stroke-opacity="0.28" stroke-width="0.7"/>
<path d="M581,582.3V602.1" stroke="#000" stroke-opacity="0.28" stroke-width="0.7"/>
<g font-size="13" fill="#111" text-anchor="middle">
<text x="296.7" y="618.6">50</text>
<text x="320.4" y="618.6">100</text>
<text x="344.1" y="618.6">150</text>
<text x="367.7" y="618.6">200</text>
<text x="391.4" y="618.6">250</text>
<text x="415.2" y="618.6">300</text>
<text x="439" y="618.6">350</text>
<text x="462.8" y="618.6">380</text>
<text x="486.3" y="618.6">400</text>
<text x="510.1" y="618.6">410</text>
<text x="533.9" y="618.6">420</text>
<text x="557.5" y="618.6">450</text>
<text x="581" y="618.6">480</text>
</g>
<text x="171" y="592.6" font-size="13.4" fill="#111">Temperature / <tspan font-size="7" dy="-4.2">o</tspan><tspan dy="4.2">C</tspan></text>
<!-- panels c,d -->
<rect x="46.5" y="652.9" width="285.3" height="229.20000000000005" fill="#fff" stroke="#4a4a4a" stroke-width="1.1"/>
<path d="M46.5,882.1h4.6M46.5,849.4h4.6M46.5,816.6h4.6M46.5,783.9h4.6M46.5,751.1h4.6M46.5,718.4h4.6M46.5,685.6h4.6M46.5,652.9h4.6M59.9,882.1v-4.6M114.2,882.1v-4.6M168.5,882.1v-4.6M222.7,882.1v-4.6M277.0,882.1v-4.6M331.3,882.1v-4.6" stroke="#4a4a4a" stroke-width="1.1" fill="none"/>
<g font-size="13.3" fill="#111">
<text x="40.2" y="886.8" text-anchor="end">0</text>
<text x="40.2" y="854.1" text-anchor="end">50</text>
<text x="40.2" y="821.3" text-anchor="end">100</text>
<text x="40.2" y="788.6" text-anchor="end">150</text>
<text x="40.2" y="755.8" text-anchor="end">200</text>
<text x="40.2" y="723.1" text-anchor="end">250</text>
<text x="40.2" y="690.3" text-anchor="end">300</text>
<text x="40.2" y="657.6" text-anchor="end">350</text>
<text x="59.9" y="897.7" text-anchor="middle">0</text>
<text x="114.2" y="897.7" text-anchor="middle">20</text>
<text x="168.5" y="897.7" text-anchor="middle">40</text>
<text x="222.7" y="897.7" text-anchor="middle">60</text>
<text x="277.0" y="897.7" text-anchor="middle">80</text>
<text x="331.3" y="897.7" text-anchor="middle">100</text>
</g>
<text x="194" y="914" font-size="13" fill="#111" text-anchor="middle"><tspan font-style="italic">t</tspan> / s</text>
<text x="11.2" y="767.5" font-size="13" fill="#111" text-anchor="middle" transform="rotate(-90 11.2 767.5)">Temperature / <tspan font-size="7" dy="-4.2">o</tspan><tspan dy="4.2">C</tspan></text>
<path d="M59.4,875.4h4.7v4.7h-4.7zM62.1,874.9h4.7v4.7h-4.7zM64.8,874.6h4.7v4.7h-4.7zM67.5,874.4h4.7v4.7h-4.7zM70.1,874.3h4.7v4.7h-4.7zM72.8,874.2h4.7v4.7h-4.7zM75.5,874.1h4.7v4.7h-4.7zM78.1,873.9h4.7v4.7h-4.7zM80.8,873.6h4.7v4.7h-4.7zM83.5,873.4h4.7v4.7h-4.7zM86.1,873.1h4.7v4.7h-4.7zM88.8,872.6h4.7v4.7h-4.7zM91.5,871.2h4.7v4.7h-4.7zM94.1,869.8h4.7v4.7h-4.7zM96.8,868.7h4.7v4.7h-4.7zM99.5,867.6h4.7v4.7h-4.7zM102.1,866.1h4.7v4.7h-4.7zM104.8,864.3h4.7v4.7h-4.7zM107.5,862.4h4.7v4.7h-4.7zM110.1,859.9h4.7v4.7h-4.7zM112.8,856.5h4.7v4.7h-4.7zM115.5,851.9h4.7v4.7h-4.7zM118.1,845.2h4.7v4.7h-4.7zM120.8,839.7h4.7v4.7h-4.7zM123.5,833.1h4.7v4.7h-4.7zM126.1,823.4h4.7v4.7h-4.7zM128.8,813.5h4.7v4.7h-4.7zM131.5,799.2h4.7v4.7h-4.7zM134.1,787.7h4.7v4.7h-4.7zM136.8,773.3h4.7v4.7h-4.7zM139.5,753.5h4.7v4.7h-4.7zM142.2,734.1h4.7v4.7h-4.7zM144.8,711.9h4.7v4.7h-4.7zM147.5,697.7h4.7v4.7h-4.7zM150.2,684.8h4.7v4.7h-4.7zM152.8,680.8h4.7v4.7h-4.7zM155.5,681.9h4.7v4.7h-4.7zM158.2,686.8h4.7v4.7h-4.7zM160.8,693.9h4.7v4.7h-4.7zM163.5,703.3h4.7v4.7h-4.7zM166.2,715.3h4.7v4.7h-4.7zM168.8,722.7h4.7v4.7h-4.7zM171.5,729.8h4.7v4.7h-4.7zM174.2,736.7h4.7v4.7h-4.7zM176.8,743.0h4.7v4.7h-4.7zM179.5,749.3h4.7v4.7h-4.7zM182.2,753.4h4.7v4.7h-4.7zM184.8,759.0h4.7v4.7h-4.7zM187.5,762.7h4.7v4.7h-4.7zM190.2,767.6h4.7v4.7h-4.7zM192.8,771.5h4.7v4.7h-4.7zM195.5,775.3h4.7v4.7h-4.7zM198.2,779.1h4.7v4.7h-4.7zM200.8,782.5h4.7v4.7h-4.7zM203.5,785.3h4.7v4.7h-4.7zM206.2,788.2h4.7v4.7h-4.7zM208.9,790.4h4.7v4.7h-4.7zM211.5,792.6h4.7v4.7h-4.7zM214.2,794.5h4.7v4.7h-4.7zM216.9,796.3h4.7v4.7h-4.7zM219.5,798.3h4.7v4.7h-4.7zM222.2,800.3h4.7v4.7h-4.7zM224.9,802.1h4.7v4.7h-4.7zM227.5,803.8h4.7v4.7h-4.7zM230.2,805.4h4.7v4.7h-4.7zM232.9,807.0h4.7v4.7h-4.7zM235.5,808.4h4.7v4.7h-4.7zM238.2,809.9h4.7v4.7h-4.7zM240.9,811.3h4.7v4.7h-4.7zM243.5,812.6h4.7v4.7h-4.7zM246.2,813.8h4.7v4.7h-4.7zM248.9,815.0h4.7v4.7h-4.7zM251.5,816.1h4.7v4.7h-4.7zM254.2,817.1h4.7v4.7h-4.7zM256.9,818.1h4.7v4.7h-4.7zM259.5,819.2h4.7v4.7h-4.7zM262.2,820.2h4.7v4.7h-4.7zM264.9,821.2h4.7v4.7h-4.7zM267.5,822.2h4.7v4.7h-4.7zM270.2,823.1h4.7v4.7h-4.7zM272.9,824.0h4.7v4.7h-4.7zM275.5,824.8h4.7v4.7h-4.7zM278.2,825.6h4.7v4.7h-4.7zM280.9,826.4h4.7v4.7h-4.7zM283.6,827.2h4.7v4.7h-4.7zM286.2,828.0h4.7v4.7h-4.7zM288.9,828.7h4.7v4.7h-4.7zM291.6,829.3h4.7v4.7h-4.7zM294.2,829.9h4.7v4.7h-4.7zM296.9,830.5h4.7v4.7h-4.7zM299.6,831.0h4.7v4.7h-4.7zM302.2,831.5h4.7v4.7h-4.7zM304.9,831.9h4.7v4.7h-4.7zM307.6,832.3h4.7v4.7h-4.7z" fill="none" stroke="#e8866a" stroke-width="0.95"/>
<path d="M59.9,864.3L60.9,864.3L61.8,864.3L62.8,864.3L63.8,864.2L64.7,864.2L65.7,864.1L66.7,864.0L67.6,863.9L68.6,863.8L69.6,863.7L70.5,863.6L71.5,863.5L72.5,863.4L73.4,863.2L74.4,863.1L75.4,863.0L76.3,862.9L77.3,862.7L78.3,862.6L79.2,862.4L80.2,862.2L81.2,862.0L82.1,861.8L83.1,861.6L84.1,861.4L85.0,861.1L86.0,860.9L87.0,860.6L87.9,860.3L88.9,860.0L89.9,859.7L90.9,859.4L91.8,859.1L92.8,858.8L93.8,858.5L94.7,858.2L95.7,857.8L96.7,857.4L97.6,857.0L98.6,856.6L99.6,856.2L100.5,855.7L101.5,855.3L102.5,854.8L103.4,854.2L104.4,853.7L105.4,853.1L106.3,852.4L107.3,851.7L108.3,851.0L109.2,850.2L110.2,849.3L111.2,848.4L112.1,847.4L113.1,846.3L114.1,845.2L115.0,843.9L116.0,842.6L117.0,841.2L117.9,839.7L118.9,838.0L119.9,836.2L120.8,834.2L121.8,832.1L122.8,829.8L123.7,827.5L124.7,825.0L125.7,822.4L126.6,819.8L127.6,817.0L128.6,814.0L129.5,810.7L130.5,807.3L131.5,803.7L132.4,799.7L133.4,795.5L134.4,790.9L135.3,786.0L136.3,780.7L137.3,774.6L138.2,767.9L139.2,761.7L140.2,755.8L141.1,749.9L142.1,744.2L143.1,738.6L144.0,733.1L145.0,727.6L146.0,722.1L146.9,716.8L147.9,711.6L148.9,706.7L149.8,701.8L150.8,696.9L151.8,692.5L152.8,689.5L153.7,687.2L154.7,685.4L155.7,685.0L156.6,685.4L157.6,686.2L158.6,687.4L159.5,688.6L160.5,690.5L161.5,692.9L162.4,695.7L163.4,698.5L164.4,701.2L165.3,703.8L166.3,706.4L167.3,709.1L168.2,711.7L169.2,714.3L170.2,716.9L171.1,719.5L172.1,721.9L173.1,724.2L174.0,726.5L175.0,728.7L176.0,730.9L176.9,733.1L177.9,735.3L178.9,737.4L179.8,739.5L180.8,741.6L181.8,743.7L182.7,745.8L183.7,748.0L184.7,750.2L185.6,752.5L186.6,754.7L187.6,756.8L188.5,758.9L189.5,760.9L190.5,762.8L191.4,764.4L192.4,766.0L193.4,767.4L194.3,768.8L195.3,770.1L196.3,771.4L197.2,772.6L198.2,773.8L199.2,775.0L200.1,776.1L201.1,777.3L202.1,778.4L203.0,779.5L204.0,780.7L205.0,781.8L205.9,783.0L206.9,784.1L207.9,785.2L208.8,786.3L209.8,787.4L210.8,788.4L211.7,789.4L212.7,790.4L213.7,791.4L214.7,792.3L215.6,793.1L216.6,794.0L217.6,794.8L218.5,795.6L219.5,796.4L220.5,797.2L221.4,797.9L222.4,798.6L223.4,799.4L224.3,800.1L225.3,800.8L226.3,801.5L227.2,802.3L228.2,803.0L229.2,803.7L230.1,804.4L231.1,805.1L232.1,805.7L233.0,806.4L234.0,807.1L235.0,807.7L235.9,808.4L236.9,809.0L237.9,809.6L238.8,810.2L239.8,810.8L240.8,811.4L241.7,812.0L242.7,812.6L243.7,813.2L244.6,813.7L245.6,814.3L246.6,814.8L247.5,815.3L248.5,815.9L249.5,816.4L250.4,816.8L251.4,817.3L252.4,817.8L253.3,818.2L254.3,818.7L255.3,819.1L256.2,819.5L257.2,820.0L258.2,820.4L259.1,820.8L260.1,821.2L261.1,821.6L262.0,822.0L263.0,822.4L264.0,822.8L264.9,823.2L265.9,823.6L266.9,824.0L267.8,824.4L268.8,824.8L269.8,825.2L270.7,825.5L271.7,825.9L272.7,826.2L273.6,826.6L274.6,826.9L275.6,827.3L276.6,827.6L277.5,827.9L278.5,828.2L279.5,828.6L280.4,828.9L281.4,829.2L282.4,829.5L283.3,829.8L284.3,830.1L285.3,830.4L286.2,830.7L287.2,831.0L288.2,831.3L289.1,831.6L290.1,831.9L291.1,832.2L292.0,832.5L293.0,832.7L294.0,833.0L294.9,833.2L295.9,833.5L296.9,833.7L297.8,834.0L298.8,834.2L299.8,834.4L300.7,834.6L301.7,834.9L302.7,835.1L303.6,835.3L304.6,835.5L305.6,835.7L306.5,835.9L307.5,836.1L308.5,836.2L309.4,836.4L310.4,836.6" fill="none" stroke="#222" stroke-width="1.3" stroke-linejoin="round"/>
<text x="52.0" y="667.6" font-size="12.5" fill="#111">(c)</text>
<text x="208.4" y="680" font-size="13" fill="#111" font-style="italic">T</text>
<text x="215.20000000000002" y="684.6" font-size="7.4" fill="#8c8c92">max,Sim.</text>
<text x="250" y="680" font-size="13" fill="#111">= 301.3 <tspan font-size="6.6" dy="-4.6" fill="#444">o</tspan><tspan dy="4.6">C</tspan></text>
<text x="207.0" y="698" font-size="13" fill="#111" font-style="italic">T</text>
<text x="213.8" y="702.6" font-size="7.4" fill="#8c8c92">max,Exp.</text>
<text x="248.6" y="698" font-size="13" fill="#111">= 304.0 <tspan font-size="6.6" dy="-4.6" fill="#444">o</tspan><tspan dy="4.6">C</tspan></text>
<path d="M229,746.5H256.5" stroke="#222" stroke-width="1"/>
<rect x="241.1" y="758.6" width="4.8" height="4.8" fill="none" stroke="#e8866a" stroke-width="0.95"/>
<text x="261.7" y="751" font-size="13" fill="#111">Sim.</text><text x="261.7" y="766.5" font-size="13" fill="#111">Exp.</text>
<rect x="399.6" y="650.8" width="288.19999999999993" height="230.70000000000005" fill="#fff" stroke="#4a4a4a" stroke-width="1.1"/>
<path d="M399.6,881.5h4.6M399.6,846.0h4.6M399.6,810.6h4.6M399.6,775.1h4.6M399.6,739.7h4.6M399.6,704.2h4.6M399.6,668.8h4.6M413.5,881.5v-4.6M468.3,881.5v-4.6M523.2,881.5v-4.6M578.0,881.5v-4.6M632.9,881.5v-4.6M687.7,881.5v-4.6" stroke="#4a4a4a" stroke-width="1.1" fill="none"/>
<g font-size="13.3" fill="#111">
<text x="393.3" y="886.2" text-anchor="end">0</text>
<text x="393.3" y="850.8" text-anchor="end">50</text>
<text x="393.3" y="815.3" text-anchor="end">100</text>
<text x="393.3" y="779.9" text-anchor="end">150</text>
<text x="393.3" y="744.4" text-anchor="end">200</text>
<text x="393.3" y="709.0" text-anchor="end">250</text>
<text x="393.3" y="673.5" text-anchor="end">300</text>
<text x="413.5" y="897.1" text-anchor="middle">0</text>
<text x="468.3" y="897.1" text-anchor="middle">20</text>
<text x="523.2" y="897.1" text-anchor="middle">40</text>
<text x="578.0" y="897.1" text-anchor="middle">60</text>
<text x="632.9" y="897.1" text-anchor="middle">80</text>
<text x="687.7" y="897.1" text-anchor="middle">100</text>
</g>
<text x="543" y="914" font-size="13" fill="#111" text-anchor="middle"><tspan font-style="italic">t</tspan> / s</text>
<text x="364.6" y="767" font-size="13" fill="#111" text-anchor="middle" transform="rotate(-90 364.6 767)">Temperature / <tspan font-size="7" dy="-4.2">o</tspan><tspan dy="4.2">C</tspan></text>
<path d="M413.0,877.1a2.55,2.55 0 1,0 5.1,0a2.55,2.55 0 1,0 -5.1,0zM415.7,876.5a2.55,2.55 0 1,0 5.1,0a2.55,2.55 0 1,0 -5.1,0zM418.4,876.2a2.55,2.55 0 1,0 5.1,0a2.55,2.55 0 1,0 -5.1,0zM421.1,876.3a2.55,2.55 0 1,0 5.1,0a2.55,2.55 0 1,0 -5.1,0zM423.8,876.7a2.55,2.55 0 1,0 5.1,0a2.55,2.55 0 1,0 -5.1,0zM426.5,876.9a2.55,2.55 0 1,0 5.1,0a2.55,2.55 0 1,0 -5.1,0zM429.2,875.8a2.55,2.55 0 1,0 5.1,0a2.55,2.55 0 1,0 -5.1,0zM431.9,874.7a2.55,2.55 0 1,0 5.1,0a2.55,2.55 0 1,0 -5.1,0zM434.6,873.9a2.55,2.55 0 1,0 5.1,0a2.55,2.55 0 1,0 -5.1,0zM437.3,873.3a2.55,2.55 0 1,0 5.1,0a2.55,2.55 0 1,0 -5.1,0zM440.0,872.9a2.55,2.55 0 1,0 5.1,0a2.55,2.55 0 1,0 -5.1,0zM442.7,872.6a2.55,2.55 0 1,0 5.1,0a2.55,2.55 0 1,0 -5.1,0zM445.4,872.0a2.55,2.55 0 1,0 5.1,0a2.55,2.55 0 1,0 -5.1,0zM448.0,870.8a2.55,2.55 0 1,0 5.1,0a2.55,2.55 0 1,0 -5.1,0zM450.7,869.1a2.55,2.55 0 1,0 5.1,0a2.55,2.55 0 1,0 -5.1,0zM453.4,867.1a2.55,2.55 0 1,0 5.1,0a2.55,2.55 0 1,0 -5.1,0zM456.1,865.4a2.55,2.55 0 1,0 5.1,0a2.55,2.55 0 1,0 -5.1,0zM458.8,863.4a2.55,2.55 0 1,0 5.1,0a2.55,2.55 0 1,0 -5.1,0zM461.5,860.9a2.55,2.55 0 1,0 5.1,0a2.55,2.55 0 1,0 -5.1,0zM464.2,858.0a2.55,2.55 0 1,0 5.1,0a2.55,2.55 0 1,0 -5.1,0zM469.6,850.3a2.55,2.55 0 1,0 5.1,0a2.55,2.55 0 1,0 -5.1,0zM472.3,844.2a2.55,2.55 0 1,0 5.1,0a2.55,2.55 0 1,0 -5.1,0zM475.0,836.6a2.55,2.55 0 1,0 5.1,0a2.55,2.55 0 1,0 -5.1,0zM477.7,828.8a2.55,2.55 0 1,0 5.1,0a2.55,2.55 0 1,0 -5.1,0zM480.4,817.5a2.55,2.55 0 1,0 5.1,0a2.55,2.55 0 1,0 -5.1,0zM483.1,805.7a2.55,2.55 0 1,0 5.1,0a2.55,2.55 0 1,0 -5.1,0zM485.8,792.7a2.55,2.55 0 1,0 5.1,0a2.55,2.55 0 1,0 -5.1,0zM488.5,778.4a2.55,2.55 0 1,0 5.1,0a2.55,2.55 0 1,0 -5.1,0zM491.2,755.7a2.55,2.55 0 1,0 5.1,0a2.55,2.55 0 1,0 -5.1,0zM493.9,739.3a2.55,2.55 0 1,0 5.1,0a2.55,2.55 0 1,0 -5.1,0zM496.6,718.8a2.55,2.55 0 1,0 5.1,0a2.55,2.55 0 1,0 -5.1,0zM499.3,699.9a2.55,2.55 0 1,0 5.1,0a2.55,2.55 0 1,0 -5.1,0zM502.0,686.3a2.55,2.55 0 1,0 5.1,0a2.55,2.55 0 1,0 -5.1,0zM504.6,678.5a2.55,2.55 0 1,0 5.1,0a2.55,2.55 0 1,0 -5.1,0zM507.3,677.8a2.55,2.55 0 1,0 5.1,0a2.55,2.55 0 1,0 -5.1,0zM510.0,681.1a2.55,2.55 0 1,0 5.1,0a2.55,2.55 0 1,0 -5.1,0zM512.7,686.9a2.55,2.55 0 1,0 5.1,0a2.55,2.55 0 1,0 -5.1,0zM515.4,696.7a2.55,2.55 0 1,0 5.1,0a2.55,2.55 0 1,0 -5.1,0zM518.1,704.5a2.55,2.55 0 1,0 5.1,0a2.55,2.55 0 1,0 -5.1,0zM520.8,713.4a2.55,2.55 0 1,0 5.1,0a2.55,2.55 0 1,0 -5.1,0zM523.5,720.4a2.55,2.55 0 1,0 5.1,0a2.55,2.55 0 1,0 -5.1,0zM526.2,728.9a2.55,2.55 0 1,0 5.1,0a2.55,2.55 0 1,0 -5.1,0zM528.9,736.1a2.55,2.55 0 1,0 5.1,0a2.55,2.55 0 1,0 -5.1,0zM531.6,741.1a2.55,2.55 0 1,0 5.1,0a2.55,2.55 0 1,0 -5.1,0zM534.3,745.7a2.55,2.55 0 1,0 5.1,0a2.55,2.55 0 1,0 -5.1,0zM537.0,750.7a2.55,2.55 0 1,0 5.1,0a2.55,2.55 0 1,0 -5.1,0zM539.7,755.5a2.55,2.55 0 1,0 5.1,0a2.55,2.55 0 1,0 -5.1,0zM542.4,760.1a2.55,2.55 0 1,0 5.1,0a2.55,2.55 0 1,0 -5.1,0zM545.1,764.5a2.55,2.55 0 1,0 5.1,0a2.55,2.55 0 1,0 -5.1,0zM547.8,768.7a2.55,2.55 0 1,0 5.1,0a2.55,2.55 0 1,0 -5.1,0zM550.5,772.6a2.55,2.55 0 1,0 5.1,0a2.55,2.55 0 1,0 -5.1,0zM553.2,776.3a2.55,2.55 0 1,0 5.1,0a2.55,2.55 0 1,0 -5.1,0zM555.9,779.7a2.55,2.55 0 1,0 5.1,0a2.55,2.55 0 1,0 -5.1,0zM558.6,782.9a2.55,2.55 0 1,0 5.1,0a2.55,2.55 0 1,0 -5.1,0zM561.3,785.8a2.55,2.55 0 1,0 5.1,0a2.55,2.55 0 1,0 -5.1,0zM563.9,788.4a2.55,2.55 0 1,0 5.1,0a2.55,2.55 0 1,0 -5.1,0zM566.6,790.9a2.55,2.55 0 1,0 5.1,0a2.55,2.55 0 1,0 -5.1,0zM569.3,793.1a2.55,2.55 0 1,0 5.1,0a2.55,2.55 0 1,0 -5.1,0zM572.0,795.1a2.55,2.55 0 1,0 5.1,0a2.55,2.55 0 1,0 -5.1,0zM574.7,797.0a2.55,2.55 0 1,0 5.1,0a2.55,2.55 0 1,0 -5.1,0zM577.4,799.0a2.55,2.55 0 1,0 5.1,0a2.55,2.55 0 1,0 -5.1,0zM580.1,800.8a2.55,2.55 0 1,0 5.1,0a2.55,2.55 0 1,0 -5.1,0zM582.8,802.5a2.55,2.55 0 1,0 5.1,0a2.55,2.55 0 1,0 -5.1,0zM585.5,804.1a2.55,2.55 0 1,0 5.1,0a2.55,2.55 0 1,0 -5.1,0zM588.2,805.6a2.55,2.55 0 1,0 5.1,0a2.55,2.55 0 1,0 -5.1,0zM590.9,807.1a2.55,2.55 0 1,0 5.1,0a2.55,2.55 0 1,0 -5.1,0zM593.6,808.7a2.55,2.55 0 1,0 5.1,0a2.55,2.55 0 1,0 -5.1,0zM596.3,810.2a2.55,2.55 0 1,0 5.1,0a2.55,2.55 0 1,0 -5.1,0zM599.0,811.6a2.55,2.55 0 1,0 5.1,0a2.55,2.55 0 1,0 -5.1,0zM601.7,813.0a2.55,2.55 0 1,0 5.1,0a2.55,2.55 0 1,0 -5.1,0zM604.4,814.3a2.55,2.55 0 1,0 5.1,0a2.55,2.55 0 1,0 -5.1,0zM607.1,815.5a2.55,2.55 0 1,0 5.1,0a2.55,2.55 0 1,0 -5.1,0zM609.8,816.6a2.55,2.55 0 1,0 5.1,0a2.55,2.55 0 1,0 -5.1,0zM612.5,817.7a2.55,2.55 0 1,0 5.1,0a2.55,2.55 0 1,0 -5.1,0zM615.2,818.8a2.55,2.55 0 1,0 5.1,0a2.55,2.55 0 1,0 -5.1,0zM617.9,819.7a2.55,2.55 0 1,0 5.1,0a2.55,2.55 0 1,0 -5.1,0zM620.6,820.6a2.55,2.55 0 1,0 5.1,0a2.55,2.55 0 1,0 -5.1,0zM623.2,821.5a2.55,2.55 0 1,0 5.1,0a2.55,2.55 0 1,0 -5.1,0zM625.9,822.3a2.55,2.55 0 1,0 5.1,0a2.55,2.55 0 1,0 -5.1,0zM628.6,823.1a2.55,2.55 0 1,0 5.1,0a2.55,2.55 0 1,0 -5.1,0zM631.3,823.9a2.55,2.55 0 1,0 5.1,0a2.55,2.55 0 1,0 -5.1,0zM634.0,824.7a2.55,2.55 0 1,0 5.1,0a2.55,2.55 0 1,0 -5.1,0zM636.7,825.5a2.55,2.55 0 1,0 5.1,0a2.55,2.55 0 1,0 -5.1,0zM639.4,826.3a2.55,2.55 0 1,0 5.1,0a2.55,2.55 0 1,0 -5.1,0zM642.1,827.0a2.55,2.55 0 1,0 5.1,0a2.55,2.55 0 1,0 -5.1,0zM644.8,827.8a2.55,2.55 0 1,0 5.1,0a2.55,2.55 0 1,0 -5.1,0zM647.5,828.5a2.55,2.55 0 1,0 5.1,0a2.55,2.55 0 1,0 -5.1,0zM650.2,829.3a2.55,2.55 0 1,0 5.1,0a2.55,2.55 0 1,0 -5.1,0zM652.9,830.0a2.55,2.55 0 1,0 5.1,0a2.55,2.55 0 1,0 -5.1,0zM655.6,830.7a2.55,2.55 0 1,0 5.1,0a2.55,2.55 0 1,0 -5.1,0zM658.3,831.4a2.55,2.55 0 1,0 5.1,0a2.55,2.55 0 1,0 -5.1,0zM661.0,832.1a2.55,2.55 0 1,0 5.1,0a2.55,2.55 0 1,0 -5.1,0zM663.7,832.8a2.55,2.55 0 1,0 5.1,0a2.55,2.55 0 1,0 -5.1,0z" fill="none" stroke="#e8866a" stroke-width="0.95"/>
<path d="M413.5,862.1L414.5,862.1L415.5,862.1L416.4,862.1L417.4,862.0L418.4,862.0L419.4,861.9L420.3,861.9L421.3,861.8L422.3,861.7L423.3,861.6L424.2,861.5L425.2,861.4L426.2,861.3L427.2,861.2L428.1,861.0L429.1,860.9L430.1,860.8L431.1,860.6L432.0,860.5L433.0,860.4L434.0,860.2L435.0,860.1L436.0,859.9L436.9,859.8L437.9,859.6L438.9,859.4L439.9,859.2L440.8,858.9L441.8,858.7L442.8,858.4L443.8,858.2L444.7,857.9L445.7,857.6L446.7,857.3L447.7,856.9L448.6,856.6L449.6,856.3L450.6,855.9L451.6,855.5L452.5,855.2L453.5,854.8L454.5,854.3L455.5,853.9L456.4,853.4L457.4,852.9L458.4,852.3L459.4,851.7L460.4,851.1L461.3,850.4L462.3,849.7L463.3,848.9L464.3,848.1L465.2,847.3L466.2,846.4L467.2,845.5L468.2,844.4L469.1,843.1L470.1,841.8L471.1,840.4L472.1,838.9L473.0,837.3L474.0,835.6L475.0,833.7L476.0,831.7L476.9,829.4L477.9,827.0L478.9,824.4L479.9,821.5L480.9,818.3L481.8,814.9L482.8,811.2L483.8,807.5L484.8,803.7L485.7,799.6L486.7,795.3L487.7,790.6L488.7,785.7L489.6,780.3L490.6,773.7L491.6,765.9L492.6,757.4L493.5,749.1L494.5,741.6L495.5,734.9L496.5,728.4L497.4,722.2L498.4,716.2L499.4,710.4L500.4,704.6L501.3,698.7L502.3,692.9L503.3,687.6L504.3,683.0L505.3,679.2L506.2,675.6L507.2,672.9L508.2,671.5L509.2,670.6L510.1,670.3L511.1,670.5L512.1,671.1L513.1,671.9L514.0,673.2L515.0,675.3L516.0,677.5L517.0,679.8L517.9,682.2L518.9,684.9L519.9,687.6L520.9,690.3L521.8,693.0L522.8,695.5L523.8,698.0L524.8,700.3L525.8,702.6L526.7,704.9L527.7,707.2L528.7,709.5L529.7,711.8L530.6,714.3L531.6,716.8L532.6,719.4L533.6,722.1L534.5,724.7L535.5,727.3L536.5,729.7L537.5,731.9L538.4,734.1L539.4,736.3L540.4,738.4L541.4,740.4L542.3,742.4L543.3,744.4L544.3,746.3L545.3,748.2L546.3,750.1L547.2,751.9L548.2,753.7L549.2,755.5L550.2,757.2L551.1,758.9L552.1,760.5L553.1,762.2L554.1,763.8L555.0,765.4L556.0,766.9L557.0,768.4L558.0,769.9L558.9,771.4L559.9,772.8L560.9,774.2L561.9,775.6L562.8,776.9L563.8,778.2L564.8,779.5L565.8,780.7L566.7,781.9L567.7,783.0L568.7,784.1L569.7,785.3L570.7,786.3L571.6,787.4L572.6,788.4L573.6,789.5L574.6,790.5L575.5,791.4L576.5,792.4L577.5,793.3L578.5,794.2L579.4,795.1L580.4,796.0L581.4,796.8L582.4,797.7L583.3,798.5L584.3,799.3L585.3,800.1L586.3,800.8L587.2,801.6L588.2,802.3L589.2,803.1L590.2,803.8L591.2,804.4L592.1,805.1L593.1,805.8L594.1,806.4L595.1,807.0L596.0,807.6L597.0,808.2L598.0,808.8L599.0,809.4L599.9,810.0L600.9,810.5L601.9,811.1L602.9,811.6L603.8,812.1L604.8,812.6L605.8,813.1L606.8,813.6L607.7,814.1L608.7,814.5L609.7,815.0L610.7,815.5L611.7,815.9L612.6,816.3L613.6,816.8L614.6,817.2L615.6,817.6L616.5,818.0L617.5,818.4L618.5,818.8L619.5,819.2L620.4,819.5L621.4,819.9L622.4,820.3L623.4,820.6L624.3,821.0L625.3,821.3L626.3,821.7L627.3,822.0L628.2,822.4L629.2,822.7L630.2,823.0L631.2,823.3L632.1,823.7L633.1,824.0L634.1,824.3L635.1,824.6L636.1,824.9L637.0,825.2L638.0,825.5L639.0,825.8L640.0,826.1L640.9,826.3L641.9,826.6L642.9,826.9L643.9,827.2L644.8,827.5L645.8,827.8L646.8,828.1L647.8,828.4L648.7,828.6L649.7,828.9L650.7,829.2L651.7,829.5L652.6,829.8L653.6,830.1L654.6,830.4L655.6,830.6L656.6,830.9L657.5,831.2L658.5,831.5L659.5,831.8L660.5,832.0L661.4,832.3L662.4,832.6L663.4,832.9L664.4,833.2L665.3,833.4L666.3,833.7" fill="none" stroke="#222" stroke-width="1.0" stroke-linejoin="round"/>
<text x="405.4" y="665.6" font-size="12.5" fill="#111">(d)</text>
<text x="563.5" y="678.6" font-size="13" fill="#111" font-style="italic">T</text>
<text x="570.3" y="683.2" font-size="7.4" fill="#8c8c92">max,Sim.</text>
<text x="605" y="678.6" font-size="13" fill="#111">= 296.7 <tspan font-size="6.6" dy="-4.6" fill="#444">o</tspan><tspan dy="4.6">C</tspan></text>
<text x="562.1" y="695.8" font-size="13" fill="#111" font-style="italic">T</text>
<text x="568.9" y="700.4" font-size="7.4" fill="#8c8c92">max,Exp.</text>
<text x="603.6" y="695.8" font-size="13" fill="#111">= 288.3 <tspan font-size="6.6" dy="-4.6" fill="#444">o</tspan><tspan dy="4.6">C</tspan></text>
<path d="M587.4,745.5H613.1" stroke="#222" stroke-width="1"/>
<circle cx="600.1" cy="760.6" r="2.7" fill="none" stroke="#e8866a" stroke-width="0.95"/>
<text x="619.3" y="749.4" font-size="13" fill="#111">Sim.</text><text x="619.3" y="765" font-size="13" fill="#111">Exp.</text>
</svg>
</body></html>
